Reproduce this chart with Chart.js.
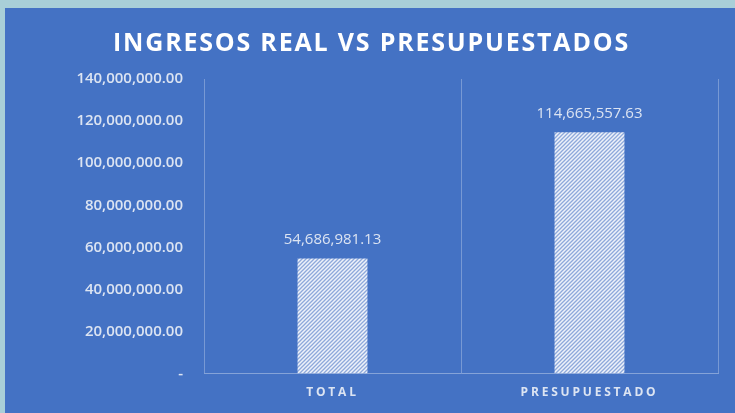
<!DOCTYPE html>
<html>
<head>
<meta charset="utf-8">
<script src="https://cdn.jsdelivr.net/npm/chart.js@4"></script>
<style>
  html, body { margin: 0; padding: 0; background: #a9cfd8; }
  body { width: 735px; height: 413px; position: relative; overflow: hidden; }
  #panel { position: absolute; left: 5px; top: 8px; width: 730px; height: 405px; background: #4472c4; }
  #chart { display: block; }
</style>
</head>
<body>
<div id="panel"><canvas id="chart" width="730" height="405"></canvas></div>
<script>
// chart data
const categories = ["TOTAL", "PRESUPUESTADO"];
const ingresos = [54686981.13, 114665557.63];
const yMax = 140000000;
const yStep = 20000000;

const textColor = "#dce4f2";

function fmt(v) {
  return v.toLocaleString("en-US", { minimumFractionDigits: 2, maximumFractionDigits: 2 });
}

// diagonal hatch fill like the excel pattern
function makeHatch() {
  const c = document.createElement("canvas");
  c.width = 4;
  c.height = 4;
  const g = c.getContext("2d");
  g.fillStyle = "#eef2fa";
  g.fillRect(0, 0, 4, 4);
  g.strokeStyle = "#8ea9db";
  g.lineWidth = 1.3;
  g.beginPath();
  g.moveTo(-1, 5); g.lineTo(5, -1);
  g.moveTo(-3, 3); g.lineTo(3, -3);
  g.moveTo(1, 7); g.lineTo(7, 1);
  g.stroke();
  return document.getElementById("chart").getContext("2d").createPattern(c, "repeat");
}

// value labels above each bar
const barLabels = {
  id: "barLabels",
  afterDatasetsDraw(chart) {
    const ctx = chart.ctx;
    const meta = chart.getDatasetMeta(0);
    ctx.save();
    ctx.font = "15px 'Open Sans'";
    ctx.fillStyle = textColor;
    ctx.textAlign = "center";
    ctx.textBaseline = "middle";
    meta.data.forEach((bar, i) => {
      ctx.fillText(fmt(ingresos[i]), bar.x, bar.y - 19);
    });
    ctx.restore();
  }
};

// wrap a box's draw so its text gets letter spacing (and an x nudge)
function spaced(chart, box, fn, spacing, dx) {
  if (!box || box._spaced) return;
  const orig = box[fn].bind(box);
  box[fn] = function (area) {
    chart.ctx.save();
    chart.ctx.letterSpacing = spacing;
    chart.ctx.translate(dx, 0);
    orig(area);
    chart.ctx.restore();
  };
  box._spaced = true;
}

const spacedText = {
  id: "spacedText",
  afterUpdate(chart) {
    spaced(chart, chart.scales.x, "drawLabels", "2.8px", 0);
    // title is centred on the whole canvas in the original, not the padded box
    spaced(chart, chart.titleBlock, "draw", "1.8px", 10);
  }
};

new Chart(document.getElementById("chart"), {
  type: "bar",
  data: {
    labels: categories,
    datasets: [
      {
        data: ingresos,
        backgroundColor: makeHatch(),
        borderWidth: 0,
        categoryPercentage: 1,
        barPercentage: 0.272
      }
    ]
  },
  options: {
    responsive: false,
    animation: false,
    layout: { padding: { left: 0, right: 17, top: 0, bottom: 1 } },
    scales: {
      x: {
        grid: {
          offset: true,
          drawTicks: false,
          color: "rgba(255,255,255,0.28)"
        },
        border: { color: "rgba(255,255,255,0.35)" },
        ticks: {
          color: textColor,
          padding: 12,
          font: { family: "'Open Sans'", size: 12, weight: "bold" }
        }
      },
      y: {
        min: 0,
        max: yMax,
        afterFit(scale) { scale.width = 199; },
        grid: { display: false, drawTicks: false },
        border: { display: false },
        ticks: {
          stepSize: yStep,
          color: textColor,
          padding: 21,
          font: { family: "'Open Sans'", size: 15, weight: "600" },
          callback: (v) => (v === 0 ? "-" : fmt(v))
        }
      }
    },
    plugins: {
      legend: { display: false },
      tooltip: { enabled: false },
      title: {
        display: true,
        text: "INGRESOS REAL VS PRESUPUESTADOS",
        color: "#ffffff",
        font: { family: "'Open Sans'", size: 25, weight: "bold" },
        padding: { top: 21, bottom: 20 }
      }
    }
  },
  plugins: [barLabels, spacedText]
});
</script>
</body>
</html>
